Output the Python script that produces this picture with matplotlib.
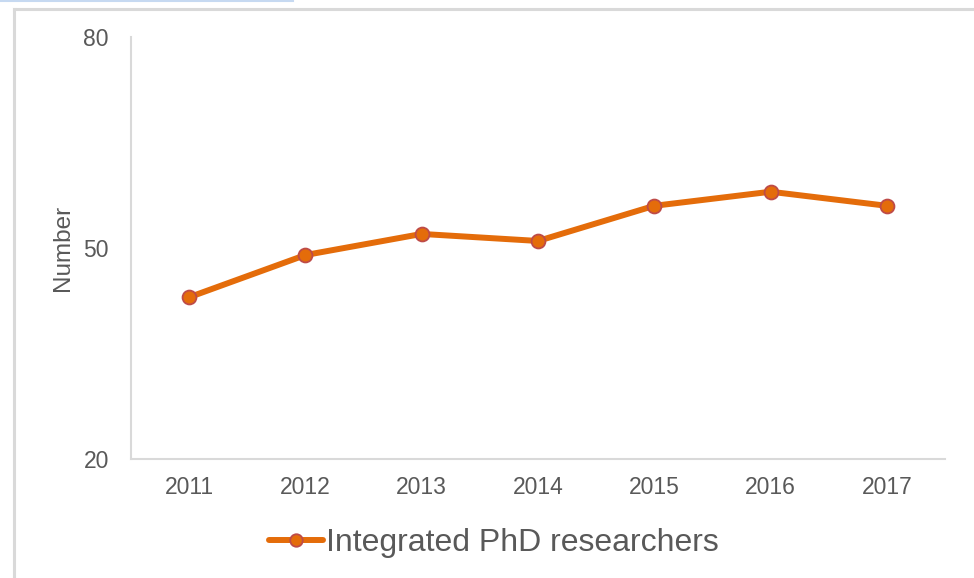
import matplotlib
matplotlib.use("Agg")
import matplotlib.pyplot as plt
from matplotlib.lines import Line2D

plt.rcParams['font.family'] = ['Liberation Sans', 'DejaVu Sans']

annees = ['2011', '2012', '2013', '2014', '2015', '2016', '2017']
chercheurs = [43, 49, 52, 51, 56, 58, 56]
graduations_y = [20, 50, 80]

orange = '#E46C0A'
bord_marqueur = '#BE4B48'
gris_texte = '#595959'
gris_axe = '#D9D9D9'

fig = plt.figure(figsize=(9.74, 5.78), dpi=100)

# cadre gris autour du graphique + petit trait bleu en haut
fig.add_artist(Line2D([14/974, 14/974], [0, 1 - 9/578], transform=fig.transFigure,
                      color=gris_axe, lw=2.2))
fig.add_artist(Line2D([14/974, 1], [1 - 9/578, 1 - 9/578], transform=fig.transFigure,
                      color=gris_axe, lw=2.2))
fig.add_artist(Line2D([0, 293/974], [1 - 0.8/578, 1 - 0.8/578], transform=fig.transFigure,
                      color='#C6D9F1', lw=1.5))

ax = fig.add_axes([131/974, 1 - 459/578, (945 - 131)/974, (459 - 37)/578])

x = range(len(annees))
ax.plot(x, chercheurs, color=orange, lw=4.3, marker='o', markersize=10,
        markerfacecolor=orange, markeredgecolor=bord_marqueur, markeredgewidth=1.3,
        label='Integrated PhD researchers', solid_capstyle='round', clip_on=False)

ax.set_xlim(-0.5, len(annees) - 0.5)
ax.set_ylim(20, 80)
ax.set_xticks(list(x))
ax.set_xticklabels(annees)
ax.set_yticks(graduations_y)
ax.tick_params(axis='both', length=0, labelsize=16.5, colors=gris_texte)
ax.tick_params(axis='x', pad=12)
ax.tick_params(axis='y', pad=16)

for cote in ['top', 'right']:
    ax.spines[cote].set_visible(False)
for cote in ['left', 'bottom']:
    ax.spines[cote].set_color(gris_axe)
    ax.spines[cote].set_linewidth(1.5)

ax.set_ylabel('Number', fontsize=17.5, color=gris_texte, labelpad=0)
ax.yaxis.set_label_coords(-0.07, 0.5)

leg = ax.legend(loc='center', bbox_to_anchor=(494/974, 1 - 543/578),
                bbox_transform=fig.transFigure, frameon=False, fontsize=23,
                handlelength=1.7, handletextpad=0.1, labelcolor=gris_texte,
                markerscale=0.9)

fig.savefig('out.png', dpi=100)
